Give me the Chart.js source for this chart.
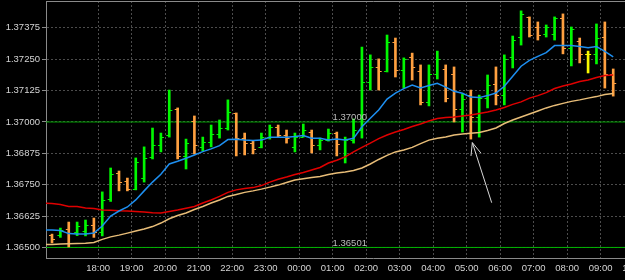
<!DOCTYPE html>
<html>
<head>
<meta charset="utf-8">
<script src="https://cdn.jsdelivr.net/npm/chart.js@4"></script>
<style>
  html, body { margin: 0; padding: 0; background: #000; overflow: hidden; }
  #wrap { width: 625px; height: 280px; overflow: hidden; }
  canvas { display: block; background: #000; }
</style>
</head>
<body>
<div id="wrap"><canvas id="chart" width="700" height="280"></canvas></div>
<script>
// 15 minute bars, first bar opens 16:30, last 09:15
const opens = [1.36547,1.36550,1.36574,1.36562,1.36566,1.36590,1.36562,1.36690,1.36797,1.36765,
  1.36733,1.36777,1.36857,1.36905,1.36948,1.37048,1.36861,1.37000,1.36897,1.36920,
  1.36952,1.36976,1.37032,1.36936,1.36916,1.36897,1.36940,1.36980,1.36948,1.36897,
  1.36940,1.36960,1.36905,1.36928,1.36956,1.36857,1.36928,1.36968,1.37159,1.37215,
  1.37199,1.37318,1.37203,1.37255,1.37199,1.37076,1.37187,1.37207,1.37187,1.37048,
  1.37107,1.37016,1.37095,1.37151,1.37107,1.37255,1.37338,1.37414,1.37374,1.37350,
  1.37350,1.37410,1.37294,1.37322,1.37267,1.37267,1.37338,1.37187];
const highs = [1.36554,1.36578,1.36602,1.36602,1.36610,1.36618,1.36722,1.36817,1.36805,1.36777,
  1.36857,1.36901,1.36976,1.36956,1.37127,1.37056,1.36932,1.37024,1.36940,1.36988,
  1.37008,1.37088,1.37036,1.36956,1.36924,1.36956,1.36988,1.36988,1.36968,1.36956,
  1.36992,1.36968,1.36936,1.36972,1.36960,1.36940,1.37012,1.37298,1.37267,1.37251,
  1.37346,1.37334,1.37255,1.37274,1.37227,1.37227,1.37282,1.37227,1.37219,1.37111,
  1.37127,1.37107,1.37187,1.37219,1.37267,1.37342,1.37442,1.37418,1.37398,1.37386,
  1.37418,1.37430,1.37378,1.37334,1.37282,1.37390,1.37398,1.37211];
const lows = [1.36519,1.36541,1.36503,1.36548,1.36547,1.36541,1.36547,1.36684,1.36726,1.36726,
  1.36730,1.36761,1.36853,1.36881,1.36940,1.36853,1.36813,1.36873,1.36885,1.36901,
  1.36936,1.36968,1.36865,1.36869,1.36873,1.36897,1.36932,1.36940,1.36916,1.36881,
  1.36940,1.36877,1.36889,1.36924,1.36865,1.36837,1.36916,1.36936,1.37127,1.37127,
  1.37199,1.37179,1.37135,1.37167,1.37068,1.37064,1.37171,1.37080,1.37000,1.36960,
  1.36932,1.36940,1.37056,1.37068,1.37068,1.37215,1.37306,1.37338,1.37326,1.37338,
  1.37326,1.37271,1.37223,1.37235,1.37195,1.37231,1.37135,1.37103];
const closes = [1.36531,1.36570,1.36558,1.36586,1.36590,1.36562,1.36686,1.36793,1.36761,1.36733,
  1.36837,1.36853,1.36905,1.36940,1.37044,1.36861,1.36916,1.36905,1.36920,1.36952,
  1.36976,1.37036,1.36936,1.36916,1.36889,1.36940,1.36980,1.36948,1.36936,1.36940,
  1.36968,1.36905,1.36928,1.36956,1.36909,1.36928,1.36968,1.37159,1.37215,1.37199,
  1.37318,1.37203,1.37247,1.37215,1.37076,1.37187,1.37247,1.37095,1.37048,1.37091,
  1.37016,1.37095,1.37147,1.37107,1.37247,1.37326,1.37426,1.37346,1.37346,1.37374,
  1.37410,1.37294,1.37366,1.37267,1.37267,1.37334,1.37187,1.37155];

// moving averages, starting one bar before the first visible bar
const maFast = [1.36570,1.36570,1.36568,1.36556,1.36554,1.36554,1.36558,1.36586,1.36626,1.36646,
  1.36662,1.36690,1.36726,1.36761,1.36792,1.36833,1.36844,1.36856,1.36869,1.36882,
  1.36893,1.36906,1.36930,1.36931,1.36928,1.36926,1.36928,1.36939,1.36939,1.36939,
  1.36942,1.36946,1.36935,1.36935,1.36928,1.36932,1.36928,1.36935,1.36981,1.37015,
  1.37048,1.37091,1.37115,1.37133,1.37147,1.37135,1.37145,1.37154,1.37139,1.37122,
  1.37114,1.37099,1.37097,1.37105,1.37115,1.37142,1.37182,1.37222,1.37245,1.37261,
  1.37276,1.37304,1.37304,1.37304,1.37300,1.37295,1.37300,1.37281,1.37259];
const maMid = [1.36677,1.36676,1.36672,1.36664,1.36664,1.36658,1.36656,1.36650,1.36649,1.36647,
  1.36646,1.36644,1.36642,1.36639,1.36638,1.36644,1.36650,1.36657,1.36664,1.36678,
  1.36690,1.36704,1.36720,1.36730,1.36735,1.36739,1.36747,1.36761,1.36772,1.36781,
  1.36791,1.36799,1.36809,1.36819,1.36837,1.36848,1.36861,1.36881,1.36899,1.36916,
  1.36934,1.36948,1.36960,1.36970,1.36982,1.36992,1.37004,1.37014,1.37018,1.37020,
  1.37024,1.37028,1.37034,1.37040,1.37048,1.37058,1.37070,1.37080,1.37095,1.37105,
  1.37117,1.37133,1.37143,1.37151,1.37161,1.37167,1.37177,1.37185,1.37187];
const maSlow = [1.36513,1.36513,1.36515,1.36516,1.36517,1.36518,1.36521,1.36533,1.36543,1.36550,
  1.36558,1.36566,1.36574,1.36584,1.36598,1.36615,1.36628,1.36638,1.36652,1.36664,
  1.36678,1.36690,1.36704,1.36712,1.36720,1.36726,1.36733,1.36741,1.36749,1.36759,
  1.36769,1.36774,1.36779,1.36783,1.36791,1.36797,1.36801,1.36807,1.36817,1.36833,
  1.36851,1.36867,1.36881,1.36889,1.36899,1.36914,1.36928,1.36935,1.36940,1.36948,
  1.36952,1.36955,1.36958,1.36966,1.36976,1.36994,1.37008,1.37020,1.37032,1.37044,
  1.37056,1.37066,1.37074,1.37082,1.37088,1.37095,1.37101,1.37109,1.37113];

const hourLabels = ['18:00','19:00','20:00','21:00','22:00','23:00','00:00','01:00','02:00',
  '03:00','04:00','05:00','06:00','07:00','08:00','09:00','10:00','11:00'];
const priceTicks = [1.36500,1.36625,1.36750,1.36875,1.37000,1.37125,1.37250,1.37375];
const levels = [1.37000, 1.36501];

// hand drawn arrow, in bar index / price
const arrowShaftX = [52.49, 50.18];
const arrowShaftY = [1.36679, 1.36918];
const arrowHeadX = [50.02, 50.18, 51.21];
const arrowHeadY = [1.36865, 1.36918, 1.36876];

const upColor = '#00f800';
const downColor = '#ffa040';
const dojiColor = '#f8f800';
const textColor = '#d4d4d4';
const font = { family: '"Liberation Sans", Arial, sans-serif', size: 9.5 };

// bar index of the first hour line (18:00 sits between bar 5 and bar 6)
const firstHourAt = 5.5;
const hourPos = k => firstHourAt + 4 * k;
const xMin = -0.716, xMax = 77.36;

function barColor(i) {
  if (closes[i] > opens[i]) return upColor;
  if (closes[i] < opens[i]) return downColor;
  return dojiColor;
}

// small open/close tick marks as point images
function tickImage(color, side) {
  const c = document.createElement('canvas');
  c.width = 8; c.height = 1;
  const g = c.getContext('2d');
  g.fillStyle = color;
  g.fillRect(side === 'open' ? 1 : 4, 0, 3, 1);
  return c;
}
const tickImages = {};
[upColor, downColor, dojiColor].forEach(col => {
  tickImages[col] = { open: tickImage(col, 'open'), close: tickImage(col, 'close') };
});

const levelLabels = {
  id: 'levelLabels',
  afterDatasetsDraw(chart) {
    const { ctx, scales: { x, y } } = chart;
    const at = hourPos(hourLabels.indexOf('01:00'));
    ctx.save();
    ctx.font = '9.5px "Liberation Sans", Arial, sans-serif';
    ctx.fillStyle = '#bcbcbc';
    ctx.textAlign = 'left';
    ctx.textBaseline = 'alphabetic';
    levels.forEach(v => {
      ctx.fillText(v.toFixed(5), x.getPixelForValue(at), y.getPixelForValue(v) - 1.5);
    });
    ctx.restore();
  }
};

const maLine = (values, color, order) => ({
  type: 'line',
  data: values.map((v, i) => ({ x: i - 1, y: v })),
  borderColor: color,
  borderWidth: 1.5,
  pointRadius: 0,
  tension: 0,
  order: order
});

new Chart(document.getElementById('chart'), {
  type: 'bar',
  data: {
    datasets: [
      {
        type: 'line',
        data: arrowShaftX.map((v, i) => ({ x: v, y: arrowShaftY[i] })),
        borderColor: '#d8d8d8', borderWidth: 1, pointRadius: 0, order: 0
      },
      {
        type: 'line',
        data: arrowHeadX.map((v, i) => ({ x: v, y: arrowHeadY[i] })),
        borderColor: '#d8d8d8', borderWidth: 1, pointRadius: 0, order: 0
      },
      maLine(maFast, '#1e8ff0', 1),
      maLine(maMid, '#e00000', 2),
      maLine(maSlow, '#e8bd78', 3),
      {
        type: 'scatter',
        data: opens.map((v, i) => ({ x: i, y: v })),
        pointStyle: ctx => tickImages[barColor(ctx.dataIndex)].open,
        pointRadius: 3,
        showLine: false,
        order: 4
      },
      {
        type: 'scatter',
        data: closes.map((v, i) => ({ x: i, y: v })),
        pointStyle: ctx => tickImages[barColor(ctx.dataIndex)].close,
        pointRadius: 3,
        showLine: false,
        order: 5
      },
      {
        type: 'bar',
        data: lows.map((v, i) => ({ x: i, y: [v, highs[i]] })),
        backgroundColor: ctx => barColor(ctx.dataIndex),
        borderWidth: 0,
        barThickness: 2,
        order: 6
      },
      ...levels.map((v, k) => ({
        type: 'line',
        data: [{ x: xMin, y: v }, { x: xMax, y: v }],
        borderColor: k === 0 ? '#00a000' : '#00b400',
        borderWidth: 1,
        pointRadius: 0,
        order: 7
      }))
    ]
  },
  options: {
    responsive: false,
    animation: false,
    events: [],
    devicePixelRatio: 1,
    layout: { padding: 0, autoPadding: false },
    plugins: { legend: { display: false }, tooltip: { enabled: false } },
    scales: {
      x: {
        type: 'linear',
        min: xMin,
        max: xMax,
        offset: false,
        afterBuildTicks: s => { s.ticks = hourLabels.map((_, k) => ({ value: hourPos(k) })); },
        ticks: {
          autoSkip: false, maxRotation: 0, color: textColor, font: font, padding: 5,
          callback: (v, k) => hourLabels[k]
        },
        grid: { color: '#4c4c4c', offset: false, drawTicks: false },
        border: { color: '#8a8a8a', dash: [2, 2] },
        afterFit: s => { s.height = 22; s.paddingLeft = 0; s.paddingRight = 0; }
      },
      x2: {
        type: 'linear',
        position: 'top',
        min: xMin,
        max: xMax,
        ticks: { display: false },
        grid: { display: false, drawTicks: false },
        border: { color: '#8a8a8a' },
        afterFit: s => { s.height = 1; s.paddingLeft = 0; s.paddingRight = 0; }
      },
      y: {
        min: 1.36459,
        max: 1.374813,
        afterBuildTicks: s => { s.ticks = priceTicks.map(v => ({ value: v })); },
        ticks: { color: textColor, font: font, padding: 2, callback: v => v.toFixed(5) },
        grid: { color: '#4c4c4c', tickLength: 4, tickColor: '#8a8a8a' },
        border: { color: '#8a8a8a', dash: [2, 2] },
        afterFit: s => { s.width = 46; s.paddingTop = 0; s.paddingBottom = 0; }
      }
    }
  },
  plugins: [levelLabels]
});
</script>
</body>
</html>
